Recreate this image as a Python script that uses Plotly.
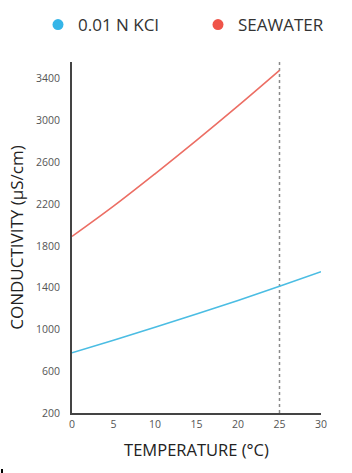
import plotly.graph_objects as go

temps_kcl = [0, 5, 10, 15, 20, 25, 30]
kcl_values = [776, 896, 1020, 1147, 1278, 1413, 1552]

temps_sea = [0, 5, 10, 15, 20, 25]
sea_values = [1890, 2180, 2490, 2810, 3140, 3480]

y_ticks = [200, 600, 1000, 1400, 1800, 2200, 2600, 3000, 3400]
x_ticks = [0, 5, 10, 15, 20, 25, 30]
ref_temp = 25

FONT = "Open Sans"

fig = go.Figure()
fig.add_trace(go.Scatter(
    x=temps_kcl, y=kcl_values, mode="lines", name="0.01 N KCl", showlegend=False,
    line=dict(color="#4BBDE3", width=1.6, shape="spline"),
))
fig.add_trace(go.Scatter(
    x=temps_sea, y=sea_values, mode="lines", name="SEAWATER", showlegend=False,
    line=dict(color="#EC6E64", width=1.6, shape="spline"),
))
fig.add_trace(go.Scatter(x=[None], y=[None], mode="markers", name="0.01 N KCl",
                         marker=dict(color="#35B5E8", size=11), legend="legend"))
fig.add_trace(go.Scatter(x=[None], y=[None], mode="markers", name="SEAWATER",
                         marker=dict(color="#EF5449", size=11), legend="legend2"))

fig.add_shape(type="line", xref="x", yref="paper", x0=ref_temp, x1=ref_temp, y0=0, y1=1,
              line=dict(color="#8A8A8A", width=1.5, dash="dot"), layer="below")
# small stray mark at bottom-left corner of the reference image
fig.add_shape(type="rect", xref="paper", yref="paper", x0=-0.2851, x1=-0.2771,
              y0=-0.1709, y1=-0.1595, fillcolor="black", line=dict(width=0))

legend_common = dict(orientation="h", xref="container", yref="container",
                     xanchor="left", yanchor="middle",
                     font=dict(family=FONT, size=17, color="#333"),
                     itemwidth=30, bgcolor="rgba(0,0,0,0)")

fig.update_layout(
    width=352, height=473,
    margin=dict(l=72, r=31, t=62, b=60, autoexpand=False),
    paper_bgcolor="white", plot_bgcolor="white",
    font=dict(family=FONT, color="#333"),
    showlegend=True,
    legend=dict(x=38 / 352, y=1 - 25 / 473, **legend_common),
    legend2=dict(x=198 / 352, y=1 - 25 / 473, **legend_common),
    xaxis=dict(range=[0, 30], tickvals=x_ticks, showgrid=False, zeroline=False,
               showline=True, linecolor="#444", linewidth=2,
               ticks="", ticklabelstandoff=0,
               tickfont=dict(family=FONT, size=10.5, color="#555"),
               title=dict(text="TEMPERATURE (°C)", font=dict(family=FONT, size=16.5, color="#222"),
                          standoff=15)),
    yaxis=dict(range=[200, 3560], tickvals=y_ticks, showgrid=False, zeroline=False,
               showline=True, linecolor="#444", linewidth=2,
               ticks="", ticklabelstandoff=8,
               tickfont=dict(family=FONT, size=10.5, color="#555"),
               title=dict(text="CONDUCTIVITY (µS/cm)", font=dict(family=FONT, size=17, color="#222"),
                          standoff=8)),
)

fig.write_html("out.html")
